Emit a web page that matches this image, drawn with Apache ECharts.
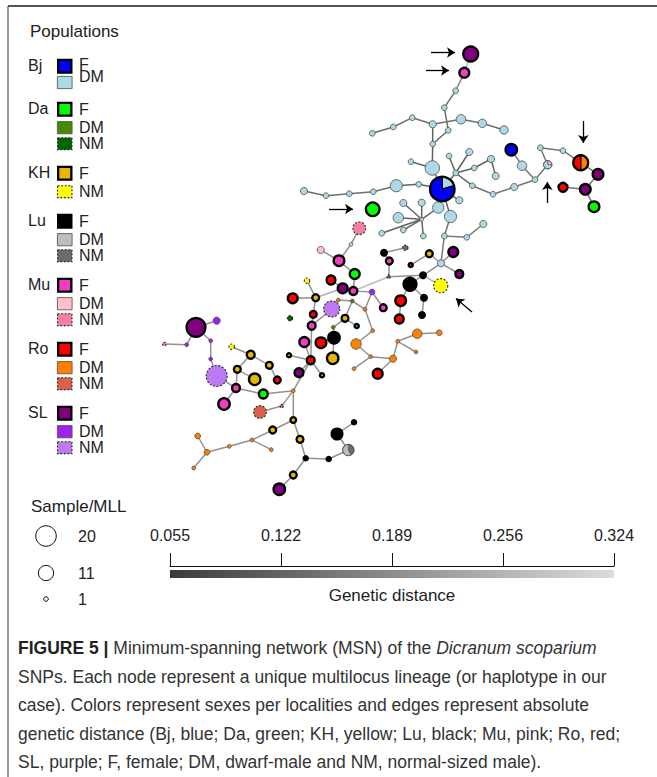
<!DOCTYPE html>
<html><head><meta charset="utf-8">
<script src="https://cdn.jsdelivr.net/npm/echarts/dist/echarts.min.js"></script>
<style>html,body{margin:0;padding:0;background:#fff}#chart{width:657px;height:777px}</style>
</head><body><div id="chart"></div>
<script>
// ---------------- DATA ----------------
// Node layout coordinates (network layout units) and sample counts per multilocus lineage
const Bj_F = [['t3',511.3,149.7,9]];
const Bj_DM = [
 ['b1',455.7,90.7,2],['b2',444.3,107.7,2],['b3',448.3,130.3,2],['b4',432.7,124.3,3],['b5',461,119.3,5],
 ['b6',482.3,123.3,4],['b7',504,130,4],['b8',412.3,117.7,2],['b9',393.3,127,2],['b10',372.3,133.3,2],
 ['b11',432.7,144,2],['b12',432.3,168,11],['b13',411,161.7,2],['b14',396.3,185.7,8],['b15',418.7,184.3,2],
 ['b16',373.3,191.7,2],['b17',349.3,193.7,2],['b18',326,195.7,2],['b19',304,191,3],['b20',455.7,173,2],
 ['b21',449,156,2],['b22',469.3,152,3],['b23',474.3,168,2],['b24',491,159,3],['b25',495.7,176,3],
 ['b26',472.3,185.7,2],['b27',493,194.3,2],['b28',514.3,187,3],['b29',535,179.7,2],['b30',522,165.7,5],
 ['b31',540.3,147.7,2],['b32',563,150.7,2],['b33',438.3,207.5,7],['b34',450.5,216.5,8],['b35',459.3,200.3,3],
 ['b36',421.7,202.7,3],['b37',403.3,203,3],['b38',398.3,217.7,6],['b39',421.7,219.3,1],['b40',403.3,230,2],
 ['b41',381.7,233.3,2],['b42',423.3,236,2],['b43',444.3,236,2],['b44',466.7,237.3,2],['b45',483.3,224,3],
 ['b46',441,263.3,3]
];
const Da_F = [['t7',594,206.7,8],['t8',372.7,209.3,12],['m5',354.7,274,7],['m37',356.7,326,2],['m71',263.3,394,6]];
const Da_DM = [['m31',352.3,301,1],['m36',333.3,327.3,1]];
const Da_NM = [['m32',290,318.3,2]];
const KH_F = [
 ['m10',429.3,253.7,4],['m28',315.7,297.7,4],['m35',345,318.3,4],['m44',332.7,358.3,9],['m46',289,355.3,2],
 ['m47',322,375.3,2],['m64',250.7,354.7,5],['m66',237.3,369.3,4],['m67',269.3,365.3,4],['m68',254.7,379.3,9],
 ['m76',293.3,420,3],['m77',272.7,430,4],['m78',300,439.3,4],['m83',293.3,475,4]
];
const KH_NM = [['m15',440.7,285.7,11],['m23',307,280.7,2],['m62',231.7,346.7,2]];
const Lu_F = [
 ['m6',384,252.7,3],['m13',423,275.3,3],['m14',410,284.3,11],['m17',424,297.7,3],['m18',422,315,3],
 ['m38',334,337.7,9],['m79',305.7,458.3,2],['m80',328.7,459,2],['m81',337,434,8],['m82',354,422.3,2]
];
const Lu_NM = [['m7',405.3,247.7,2],['m12',388.7,276.7,1]];
const Mu_F = [
 ['t2',464.3,72.7,7],['m4',339,260.7,8],['m8',389.3,261,4],['m21',383.3,307.7,4],['m26',353.3,291,5],
 ['m34',311.7,325.7,5],['m43',304.3,342,7],['m70',236,388,5],['m73',224,404,9]
];
const Mu_DM = [['m2',351,244.3,1],['m3',320.7,250,3]];
const Mu_NM = [['m1',359.3,228.3,9],['m60',164.3,344,1]];
const Ro_F = [
 ['t6',563,187.3,6],['m9',410.7,265,2],['m19',400.7,300.7,8],['m20',399.3,319,6],['m24',331,280,6],
 ['m27',292.7,298.3,7],['m33',313.3,314.3,4],['m42',321,342.7,8],['m45',310.7,360.3,5],['m56',377.7,373.7,7],
 ['m69',277.3,380,4]
];
const Ro_DM = [
 ['m30',338.3,300,1],['m39',365,309.3,1],['m40',372.7,330.7,1],['m41',356,344,6],['m49',370.7,356.7,1],
 ['m50',393,358.7,3],['m51',397.7,341.3,1],['m52',416,352,1],['m53',417.3,333.7,5],['m54',439.3,332.7,2],
 ['m55',354,368.7,1],['m72',293.3,390.7,1],['m85',252,440,1],['m86',271.3,449.7,1],['m87',229.3,446.3,1],
 ['m88',207,452.3,2],['m89',197.7,436,2],['m90',193.7,468,1]
];
const Ro_NM = [['m74',260,412,9],['m75',281.7,406,1]];
const SL_F = [
 ['t1',470.7,54,14],['t4',598,174.3,8],['t5',585.3,189.3,8],['m11',453.3,252,7],['m16',459.3,274,5],
 ['m25',342.7,288.3,7],['m48',299,372.7,6],['m57',196,327.3,21],['m84',279.3,489.3,9]
];
const SL_DM = [['m22',372,292,2],['m58',216.7,320.7,3],['m59',186.7,344.7,1],['m61',210.7,340.7,1],['m63',210.7,359,1]];
const SL_NM = [['m29',331.7,309,14],['m65',216.7,376,23]];
// Mixed lineages (pie nodes): [id, x, y, [[class, count], ...]]
const mixedNodes = [
 ['P1',442.3,189,[['Bj-DM',7],['Bj-F',27]]],
 ['P2',547.7,164.7,[['Mu-DM',1],['Bj-DM',3]]],
 ['P3',580.7,162.7,[['Ro-DM',7],['Ro-F',7]]],
 ['P4',348.3,450,[['Lu-NM',3],['Lu-DM',4]]]
];
// Edges: [from, to, absolute genetic distance]
const edges = [
 ['t1','t2',0.26],['t2','b1',0.17],['b1','b2',0.14],['b2','b3',0.14],['b3','b11',0.12],['b4','b11',0.12],
 ['b11','b12',0.12],['b12','P1',0.12],['b13','b12',0.12],['b10','b9',0.14],['b9','b8',0.14],['b8','b4',0.14],
 ['b4','b5',0.14],['b5','b6',0.14],['b6','b7',0.14],['P1','b15',0.12],['b15','b14',0.12],['b14','b16',0.14],
 ['b16','b17',0.14],['b17','b18',0.14],['b18','b19',0.14],['P1','b20',0.12],['b20','b21',0.12],['b20','b22',0.12],
 ['b20','b23',0.12],['b23','b24',0.12],['b24','b25',0.12],['b20','b26',0.12],['b26','b27',0.15],['b27','b28',0.15],
 ['b28','b29',0.15],['b29','P2',0.15],['b30','b29',0.15],['t3','b30',0.15],['P2','b31',0.15],['b31','b32',0.15],
 ['b32','P3',0.15],['P3','t4',0.15],['t4','t5',0.15],['t5','t6',0.15],['t5','t7',0.15],['P1','b35',0.12],
 ['P1','b34',0.12],['P1','b33',0.12],['b33','b39',0.12],['b39','b36',0.12],['b39','b37',0.12],['b39','b38',0.12],
 ['b39','b40',0.12],['b39','b41',0.12],['b39','b42',0.12],['b34','b43',0.14],['b43','b44',0.16],['b44','b45',0.16],
 ['b43','b46',0.16],
 ['m1','m2',0.2],['m2','m4',0.2],['m3','m4',0.2],['m4','m5',0.2],['m5','m26',0.2],['m26','m25',0.2],
 ['m26','m12',0.27],['m12','m8',0.2],['m6','m8',0.2],['m6','m7',0.2],['m12','m13',0.2],['m13','b46',0.2],
 ['m13','m14',0.2],['m14','m17',0.2],['m17','m18',0.2],['b46','m16',0.2],['b46','m11',0.2],['m10','m9',0.2],
 ['m10','b46',0.22],['m15','m13',0.25],['m14','m19',0.22],['m19','m20',0.2],['m21','m22',0.2],['m22','m26',0.22],
 ['m22','m39',0.2],['m39','m40',0.2],['m40','m41',0.2],['m41','m49',0.2],['m49','m55',0.2],['m49','m50',0.2],
 ['m50','m51',0.2],['m51','m53',0.2],['m53','m54',0.2],['m51','m52',0.2],['m50','m56',0.2],
 ['m31','m30',0.2],['m30','m29',0.2],['m31','m35',0.2],['m35','m36',0.2],['m36','m38',0.2],['m31','m39',0.2],
 ['m37','m35',0.22],['m29','m34',0.2],['m34','m33',0.2],['m34','m45',0.2],['m33','m28',0.2],['m28','m27',0.2],
 ['m28','m23',0.2],['m28','m25',0.25],['m24','m25',0.2],['m42','m38',0.2],['m43','m45',0.2],['m44','m38',0.2],
 ['m45','m47',0.2],['m45','m48',0.2],['m45','m46',0.2],['m45','m72',0.2],['m72','m71',0.2],['m72','m76',0.2],
 ['m71','m70',0.2],['m70','m73',0.2],['m70','m66',0.2],['m66','m64',0.2],['m64','m62',0.2],['m65','m70',0.22],
 ['m67','m69',0.2],['m67','m64',0.22],['m68','m66',0.22],['m57','m58',0.2],['m57','m61',0.2],['m61','m63',0.2],
 ['m63','m65',0.2],['m57','m59',0.2],['m59','m60',0.2],['m74','m75',0.2],['m75','m72',0.22],['m76','m77',0.2],
 ['m77','m85',0.2],['m85','m86',0.2],['m85','m87',0.2],['m87','m88',0.2],['m88','m89',0.2],['m88','m90',0.2],
 ['m76','m78',0.2],['m78','m79',0.2],['m79','m80',0.2],['m80','P4',0.2],['P4','m81',0.2],['m81','m82',0.2],
 ['m79','m83',0.2],['m83','m84',0.2]
];
// Annotation arrows (layout units): [[fromX,fromY],[toX,toY]]
const arrowPaths = [
 [[431,52.5],[455,52.5]], [[426,70.5],[449,70.5]], [[583.3,121],[583.3,143]],
 [[547.3,203],[547.3,182]], [[329,209],[353,209]], [[472,312],[456,298.5]]
];
const legendPops = ['Bj','Da','KH','Lu','Mu','Ro','SL'];
const legendSexes = [['F','DM'],['F','DM','NM'],['F','NM'],['F','DM','NM'],['F','DM','NM'],['F','DM','NM'],['F','DM','NM']];
const sizeLegendCounts = [20, 11, 1];
const distTicks = ['0.055','0.122','0.189','0.256','0.324'];
const captionLines = [
 '{b|FIGURE 5 |} Minimum-spanning network (MSN) of the {i|Dicranum scoparium}',
 'SNPs. Each node represent a unique multilocus lineage (or haplotype in our',
 'case). Colors represent sexes per localities and edges represent absolute',
 'genetic distance (Bj, blue; Da, green; KH, yellow; Lu, black; Mu, pink; Ro, red;',
 'SL, purple; F, female; DM, dwarf-male and NM, normal-sized male).'
];

// ---------------- STYLE ----------------
const classColors = {
 'Bj-F':'#0000ff','Bj-DM':'#add8e6',
 'Da-F':'#00ff00','Da-DM':'#4a8a00','Da-NM':'#006400',
 'KH-F':'#e8b600','KH-NM':'#ffff00',
 'Lu-F':'#000000','Lu-DM':'#bebebe','Lu-NM':'#6b6b6b',
 'Mu-F':'#f23cc2','Mu-DM':'#ffc0cb','Mu-NM':'#f77fa2',
 'Ro-F':'#ff0000','Ro-DM':'#ff7f00','Ro-NM':'#d9604c',
 'SL-F':'#800080','SL-DM':'#a020f0','SL-NM':'#bd79ef'
};
const FONT = '"Liberation Sans", Arial, Helvetica, sans-serif';
const TXT = '#222';
const rScale = n => 2.3 * Math.sqrt(n);
const DMIN = parseFloat(distTicks[0]), DMAX = parseFloat(distTicks[distTicks.length-1]);
function grey(t){ const v = Math.round(0x3c + t*(0xdc-0x3c)); return 'rgb('+v+','+v+','+v+')'; }
function distColor(d){ return grey(Math.max(0, Math.min(1, (d-DMIN)/(DMAX-DMIN)))); }

// ---------------- BUILD ----------------
const groups = {
 'Bj-F':Bj_F,'Bj-DM':Bj_DM,'Da-F':Da_F,'Da-DM':Da_DM,'Da-NM':Da_NM,'KH-F':KH_F,'KH-NM':KH_NM,
 'Lu-F':Lu_F,'Lu-NM':Lu_NM,'Mu-F':Mu_F,'Mu-DM':Mu_DM,'Mu-NM':Mu_NM,'Ro-F':Ro_F,'Ro-DM':Ro_DM,
 'Ro-NM':Ro_NM,'SL-F':SL_F,'SL-DM':SL_DM,'SL-NM':SL_NM
};
const allNodes = [];
Object.keys(groups).forEach(cls => groups[cls].forEach(([id,x,y,n]) => allNodes.push({id,x,y,parts:[[cls,n]]})));
mixedNodes.forEach(([id,x,y,parts]) => allNodes.push({id,x,y,parts}));
const byId = {}; allNodes.forEach(n => byId[n.id] = n);
const nodeData = allNodes.map((n,i) => [n.x, n.y, n.parts.reduce((s,p)=>s+p[1],0), i]);
const edgeData = edges.map(([a,b,d]) => [byId[a].x, byId[a].y, byId[b].x, byId[b].y, d]);

function nodeStyle(cls){
  if (cls.endsWith('-F')) return {stroke:'#000', lineWidth:2.3, lineDash:null};
  if (cls.endsWith('-NM')) return {stroke:'#2a2a2a', lineWidth:1.1, lineDash:[2,1.6]};
  return {stroke:'#4d4d4d', lineWidth:0.8, lineDash:null};
}

function renderNode(params, api){
  const node = allNodes[api.value(3)];
  const c = api.coord([api.value(0), api.value(1)]);
  const R = rScale(api.value(2));
  const total = api.value(2);
  const hasF = node.parts.some(p => p[0].endsWith('-F'));
  const children = [];
  if (node.parts.length === 1){
    const cls = node.parts[0][0];
    const st = nodeStyle(cls);
    children.push({type:'circle', shape:{cx:c[0], cy:c[1], r:R - st.lineWidth/2},
      style:{fill:classColors[cls], stroke:st.stroke, lineWidth:st.lineWidth, lineDash:st.lineDash}});
  } else {
    const lw = hasF ? 2.3 : 0.8;
    const r = R - lw/2;
    let a = -Math.PI/2;
    node.parts.forEach(([cls,n]) => {
      const da = 2*Math.PI*n/total;
      children.push({type:'sector', shape:{cx:c[0], cy:c[1], r0:0, r:r, startAngle:a, endAngle:a+da, clockwise:true},
        style:{fill:classColors[cls], stroke: hasF ? '#000' : '#4d4d4d', lineWidth: hasF ? 1.2 : 0.6}});
      a += da;
    });
    children.push({type:'circle', shape:{cx:c[0], cy:c[1], r:r},
      style:{fill:'none', stroke: hasF ? '#000' : '#4d4d4d', lineWidth: lw}});
  }
  return {type:'group', children};
}

function renderEdge(params, api){
  const p1 = api.coord([api.value(0), api.value(1)]);
  const p2 = api.coord([api.value(2), api.value(3)]);
  return {type:'line', shape:{x1:p1[0], y1:p1[1], x2:p2[0], y2:p2[1]},
    style:{stroke:distColor(api.value(4)), lineWidth:1.5}};
}

// ---------- legend graphics ----------
const graphics = [];
// frame
graphics.push({type:'line', shape:{x1:8, y1:6, x2:657, y2:6}, style:{stroke:'#555', lineWidth:2}, silent:true});
graphics.push({type:'line', shape:{x1:8, y1:6, x2:8, y2:777}, style:{stroke:'#555', lineWidth:1.2}, silent:true});
graphics.push({type:'text', x:30, y:31, style:{text:'Populations', font:'17px '+FONT, fill:TXT, textVerticalAlign:'middle'}});
let gy = 58.7;
legendPops.forEach((pop, i) => {
  const sexes = legendSexes[i];
  const offs = [0, pop === 'Bj' ? 17.3 : 19.5, 35.5];
  const txtOff = pop === 'Bj' ? [6, 18] : null;   // Bj labels sit tighter, as in the figure
  sexes.forEach((sx, j) => {
    const top = gy + offs[j];
    const cls = pop + '-' + sx;
    const st = nodeStyle(cls);
    const h = sx === 'F' ? 15 : 13;
    const w = 15.5;
    graphics.push({type:'rect', shape:{x:57 + st.lineWidth/2, y:top + st.lineWidth/2, width:w - st.lineWidth, height:h - st.lineWidth},
      style:{fill:classColors[cls], stroke:st.stroke, lineWidth:st.lineWidth, lineDash:st.lineDash}, silent:true});
    const ty = txtOff ? gy + txtOff[j] : top + h/2;
    graphics.push({type:'text', x:79, y:ty, style:{text:sx, font:'16px '+FONT, fill:TXT, textVerticalAlign:'middle'}});
  });
  graphics.push({type:'text', x:28, y:gy + 6.5, style:{text:pop, font:'16px '+FONT, fill:TXT, textVerticalAlign:'middle'}});
  gy += offs[sexes.length-1] + (pop === 'Bj' ? 25.7 : 28.5);
});
// size legend
graphics.push({type:'text', x:31, y:506, style:{text:'Sample/MLL', font:'17px '+FONT, fill:TXT, textVerticalAlign:'middle'}});
const sizeRowsY = [536, 573, 599];
sizeLegendCounts.forEach((n, k) => {
  graphics.push({type:'circle', shape:{cx:46, cy:sizeRowsY[k], r:rScale(n)}, style:{fill:'#fff', stroke:'#111', lineWidth:1}, silent:true});
  graphics.push({type:'text', x:78, y:sizeRowsY[k], style:{text:String(n), font:'16px '+FONT, fill:TXT, textVerticalAlign:'middle'}});
});
// gradient bar for genetic distance
const AX_L = 170, AX_R = 614;
graphics.push({type:'rect', shape:{x:AX_L, y:570, width:AX_R-AX_L, height:8}, silent:true,
  style:{fill:new echarts.graphic.LinearGradient(0,0,1,0,[{offset:0,color:grey(0)},{offset:1,color:grey(1)}])}});
graphics.push({type:'text', x:(AX_L+AX_R)/2, y:595, style:{text:'Genetic distance', font:'17px '+FONT, fill:TXT, textAlign:'center', textVerticalAlign:'middle'}});
// caption
const CAP = 17.5;
captionLines.forEach((line, k) => {
  graphics.push({type:'text', x:18, y:648 + k*28.5, style:{
    text: line, font:CAP+'px '+FONT, fill:'#333', textVerticalAlign:'middle',
    rich:{ b:{fontWeight:'bold', fontSize:CAP, fontFamily:FONT, fill:'#222'}, i:{fontStyle:'italic', fontSize:CAP, fontFamily:FONT, fill:'#333'} }
  }});
});

const chart = echarts.init(document.getElementById('chart'), null, {renderer:'svg', width:657, height:777});
chart.setOption({
  animation:false,
  backgroundColor:'#fff',
  grid:[
    {left:0, right:0, top:0, bottom:0, show:false},
    {left:AX_L, right:657-AX_R, top:553, height:13, show:false}
  ],
  xAxis:[
    {type:'value', gridIndex:0, min:0, max:657, show:false},
    {type:'category', gridIndex:1, data:distTicks, boundaryGap:false, position:'bottom',
     axisLine:{show:true, lineStyle:{color:'#111', width:1}},
     axisTick:{show:true, inside:true, length:13, interval:0, lineStyle:{color:'#111', width:1}},
     axisLabel:{show:true, inside:true, interval:0, margin:23, fontSize:16, fontFamily:FONT, color:TXT},
     splitLine:{show:false}}
  ],
  yAxis:[
    {type:'value', gridIndex:0, min:0, max:777, inverse:true, show:false},
    {type:'value', gridIndex:1, min:0, max:1, show:false}
  ],
  graphic: graphics,
  series:[
    {type:'custom', name:'edges', coordinateSystem:'cartesian2d', xAxisIndex:0, yAxisIndex:0,
     data:edgeData, encode:{x:[0,2], y:[1,3]}, renderItem:renderEdge, silent:true, clip:false, z:1},
    {type:'custom', name:'nodes', coordinateSystem:'cartesian2d', xAxisIndex:0, yAxisIndex:0,
     data:nodeData, encode:{x:0, y:1}, renderItem:renderNode, silent:true, clip:false, z:2},
    {type:'lines', name:'arrows', coordinateSystem:'cartesian2d', xAxisIndex:0, yAxisIndex:0,
     symbol:['none','arrow'], symbolSize:8, silent:true, z:3,
     lineStyle:{color:'#000', width:1.3, opacity:1},
     data: arrowPaths.map(c => ({coords:c}))},
    {type:'line', name:'distance-axis', xAxisIndex:1, yAxisIndex:1, data:[], silent:true}
  ]
});
</script></body></html>
